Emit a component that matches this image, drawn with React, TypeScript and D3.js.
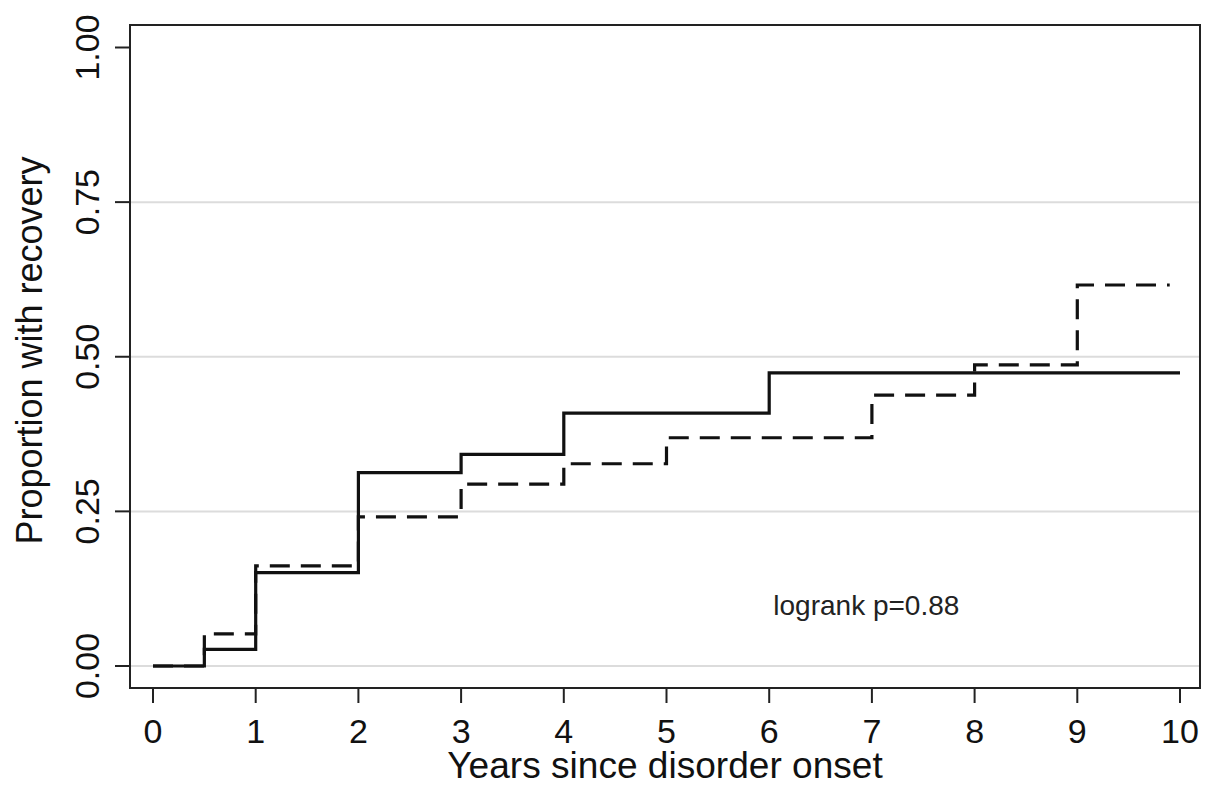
import { useEffect, useRef } from 'react';
import * as d3 from 'd3';

const WIDTH = 1217;
const HEIGHT = 785;
const FRAME = { left: 130, right: 1200, top: 25, bottom: 688 };

// step points (time in years, proportion recovered)
const solidTimes = [0, 0.5, 1, 2, 3, 4, 6, 10];
const solidValues = [0, 0.027, 0.151, 0.3125, 0.342, 0.409, 0.474, 0.474];
const dashedTimes = [0, 0.5, 1, 2, 3, 4, 5, 7, 8, 9, 9.9];
const dashedValues = [0, 0.052, 0.162, 0.241, 0.294, 0.327, 0.369, 0.438, 0.487, 0.616, 0.616];

const xTicks = [0, 1, 2, 3, 4, 5, 6, 7, 8, 9, 10];
const yTicks = [0, 0.25, 0.5, 0.75, 1];
const gridValues = [0, 0.25, 0.5, 0.75];

const FONT = '"Liberation Sans", Arial, Helvetica, sans-serif';

export default function App() {
  const svgRef = useRef<SVGSVGElement>(null);

  useEffect(() => {
    const svg = d3.select(svgRef.current);
    svg.selectAll('*').remove();

    const x = d3.scaleLinear().domain([0, 10]).range([153, 1180]);
    const y = d3.scaleLinear().domain([0, 1]).range([666, 47.5]);

    svg.append('rect').attr('width', WIDTH).attr('height', HEIGHT).attr('fill', '#fff');

    // grid lines
    svg.append('g')
      .selectAll('line')
      .data(gridValues)
      .join('line')
      .attr('x1', FRAME.left)
      .attr('x2', FRAME.right)
      .attr('y1', (d) => y(d))
      .attr('y2', (d) => y(d))
      .attr('stroke', '#dcdcdc')
      .attr('stroke-width', 2);

    // curves
    const line = d3.line<[number, number]>()
      .x((d) => x(d[0]))
      .y((d) => y(d[1]))
      .curve(d3.curveStepAfter);

    const dashed = dashedTimes.map((t, i) => [t, dashedValues[i]] as [number, number]);
    const solid = solidTimes.map((t, i) => [t, solidValues[i]] as [number, number]);

    svg.append('path')
      .attr('d', line(dashed))
      .attr('fill', 'none')
      .attr('stroke', '#111')
      .attr('stroke-width', 3.2)
      .attr('stroke-dasharray', '20,11');

    svg.append('path')
      .attr('d', line(solid))
      .attr('fill', 'none')
      .attr('stroke', '#111')
      .attr('stroke-width', 3.2);

    // frame
    svg.append('rect')
      .attr('x', FRAME.left)
      .attr('y', FRAME.top)
      .attr('width', FRAME.right - FRAME.left)
      .attr('height', FRAME.bottom - FRAME.top)
      .attr('fill', 'none')
      .attr('stroke', '#222')
      .attr('stroke-width', 2);

    // x axis ticks
    const xg = svg.append('g');
    xg.selectAll('line')
      .data(xTicks)
      .join('line')
      .attr('x1', (d) => x(d))
      .attr('x2', (d) => x(d))
      .attr('y1', FRAME.bottom)
      .attr('y2', FRAME.bottom + 15)
      .attr('stroke', '#222')
      .attr('stroke-width', 2);
    xg.selectAll('text')
      .data(xTicks)
      .join('text')
      .attr('x', (d) => x(d))
      .attr('y', 743)
      .attr('text-anchor', 'middle')
      .style('font-family', FONT)
      .style('font-size', '34px')
      .style('fill', '#111')
      .text((d) => String(d));

    // y axis ticks
    const yg = svg.append('g');
    yg.selectAll('line')
      .data(yTicks)
      .join('line')
      .attr('x1', FRAME.left - 15)
      .attr('x2', FRAME.left)
      .attr('y1', (d) => y(d))
      .attr('y2', (d) => y(d))
      .attr('stroke', '#222')
      .attr('stroke-width', 2);
    yg.selectAll('text')
      .data(yTicks)
      .join('text')
      .attr('transform', (d) => `translate(99,${y(d)}) rotate(-90)`)
      .attr('text-anchor', 'middle')
      .style('font-family', FONT)
      .style('font-size', '34px')
      .style('fill', '#111')
      .text((d) => d3.format('.2f')(d));

    // axis titles
    svg.append('text')
      .attr('transform', `translate(${(FRAME.left + FRAME.right) / 2},778) scale(1.03,1)`)
      .attr('text-anchor', 'middle')
      .style('font-family', FONT)
      .style('font-size', '36px')
      .style('fill', '#111')
      .text('Years since disorder onset');

    svg.append('text')
      .attr('transform', `translate(42,${(FRAME.top + FRAME.bottom) / 2 - 6}) rotate(-90)`)
      .attr('text-anchor', 'middle')
      .style('font-family', FONT)
      .style('font-size', '36px')
      .style('fill', '#111')
      .text('Proportion with recovery');

    // annotation
    svg.append('text')
      .attr('x', x(6.04))
      .attr('y', 615)
      .style('font-family', FONT)
      .style('font-size', '28px')
      .style('fill', '#222')
      .text('logrank p=0.88');
  }, []);

  return (
    <svg
      ref={svgRef}
      width={WIDTH}
      height={HEIGHT}
      viewBox={`0 0 ${WIDTH} ${HEIGHT}`}
      style={{ position: 'absolute', left: 0, top: 0, display: 'block' }}
    />
  );
}
